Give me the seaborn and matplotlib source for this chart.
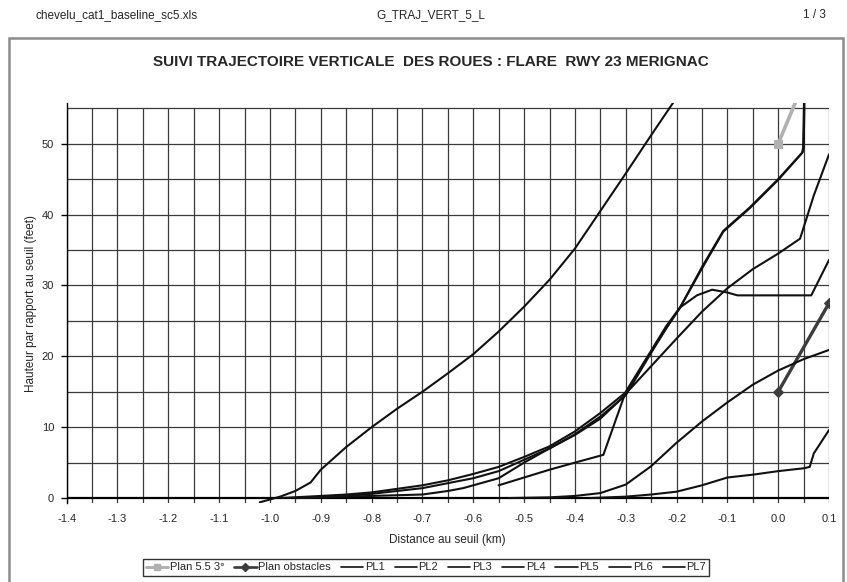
import numpy as np
import pandas as pd
import matplotlib
matplotlib.use("Agg")
import matplotlib.pyplot as plt
from matplotlib.patches import Rectangle
from matplotlib.lines import Line2D
import seaborn as sns

# ---------------- data ----------------
title = "SUIVI TRAJECTOIRE VERTICALE  DES ROUES : FLARE  RWY 23 MERIGNAC"
xlabel = "Distance au seuil (km)"
ylabel = "Hauteur par rapport au seuil (feet)"
header_left = "chevelu_cat1_baseline_sc5.xls"
header_mid = "G_TRAJ_VERT_5_L"
header_right = "1 / 3"

xticks = [-1.4, -1.3, -1.2, -1.1, -1.0, -0.9, -0.8, -0.7, -0.6, -0.5,
          -0.4, -0.3, -0.2, -0.1, 0.0, 0.1]
yticks = [0, 10, 20, 30, 40, 50]

plan_3deg_x = [0.0, 0.1]
plan_3deg_y = [50.0, 67.2]

plan_obst_x = [0.0, 0.1]
plan_obst_y = [15.0, 27.5]

pl1_x = [-1.02, -0.98, -0.95, -0.92, -0.90, -0.85, -0.80, -0.75, -0.70, -0.65,
         -0.60, -0.55, -0.50, -0.45, -0.40, -0.35, -0.30, -0.25, -0.20]
pl1_y = [-0.6, 0.2, 1.0, 2.2, 4.0, 7.2, 10.0, 12.6, 15.0, 17.6,
         20.3, 23.5, 27.0, 30.8, 35.2, 40.5, 45.8, 51.2, 56.5]

pl2_x = [-0.98, -0.90, -0.85, -0.80, -0.75, -0.70, -0.65, -0.60, -0.55, -0.50,
         -0.45, -0.40, -0.35, -0.29, -0.20, -0.15, -0.10, -0.05, 0.0, 0.043,
         0.07, 0.10]
pl2_y = [0.0, 0.3, 0.5, 0.8, 1.3, 1.8, 2.5, 3.4, 4.4, 5.8,
         7.3, 9.4, 12.0, 15.5, 22.5, 26.3, 29.6, 32.3, 34.5, 36.6,
         42.7, 48.5]

pl3_x = [-0.95, -0.85, -0.80, -0.75, -0.70, -0.65, -0.62, -0.60, -0.55, -0.50,
         -0.45, -0.40, -0.35, -0.30, -0.25, -0.22, -0.193, -0.16, -0.13, -0.10,
         -0.08, 0.065, 0.10]
pl3_y = [0.0, 0.2, 0.3, 0.4, 0.5, 1.0, 1.4, 1.8, 2.8, 5.0,
         7.0, 9.0, 11.5, 14.5, 20.5, 24.0, 26.9, 28.6, 29.4, 29.0,
         28.6, 28.6, 33.6]

pl4_x = [-0.55, -0.50, -0.45, -0.40, -0.344, -0.30, -0.25, -0.22, -0.193, -0.15,
         -0.108, -0.056, 0.0, 0.048, 0.050, 0.052]
pl4_y = [1.8, 2.9, 4.0, 5.0, 6.1, 15.0, 20.8, 24.3, 26.9, 32.6,
         37.7, 41.0, 45.0, 48.8, 49.5, 57.0]

pl5_x = [-0.53, -0.45, -0.40, -0.35, -0.30, -0.25, -0.20, -0.15, -0.10, -0.05,
         0.0, 0.05, 0.10]
pl5_y = [0.0, 0.1, 0.3, 0.7, 1.9, 4.5, 7.8, 10.8, 13.5, 16.0,
         18.0, 19.6, 20.9]

pl6_x = [-0.37, -0.30, -0.25, -0.20, -0.15, -0.10, -0.05, 0.0, 0.05, 0.062,
         0.07, 0.10]
pl6_y = [0.0, 0.2, 0.5, 0.9, 1.8, 2.9, 3.3, 3.8, 4.2, 4.4,
         6.3, 9.6]

pl7_x = [-0.93, -0.85, -0.80, -0.70, -0.60, -0.55, -0.50, -0.45, -0.40, -0.35,
         -0.30, -0.26, -0.22, -0.193, -0.15, -0.108, -0.056, 0.0, 0.047, 0.049,
         0.051]
pl7_y = [0.0, 0.3, 0.6, 1.4, 2.8, 3.8, 5.4, 7.0, 8.9, 11.2,
         14.6, 19.5, 24.0, 26.9, 32.4, 37.6, 40.9, 44.9, 48.7, 49.4,
         57.0]

series = [
    ("Plan 5.5 3°", plan_3deg_x, plan_3deg_y),
    ("Plan obstacles", plan_obst_x, plan_obst_y),
    ("PL1", pl1_x, pl1_y),
    ("PL2", pl2_x, pl2_y),
    ("PL3", pl3_x, pl3_y),
    ("PL4", pl4_x, pl4_y),
    ("PL5", pl5_x, pl5_y),
    ("PL6", pl6_x, pl6_y),
    ("PL7", pl7_x, pl7_y),
]

# ---------------- styling ----------------
sns.set_theme(style="white")
plt.rcParams["font.family"] = ["Liberation Sans", "DejaVu Sans"]

styles = {
    "Plan 5.5 3°": dict(color="#b0b0b0", lw=2.6, marker="s", ms=6),
    "Plan obstacles": dict(color="#3c3c3c", lw=2.4, marker="D", ms=5),
}
default_style = dict(color="#111111", lw=1.5, marker=None, ms=0)

fig = plt.figure(figsize=(8.47, 5.82), dpi=100)
ax = fig.add_axes([0.0787, 0.1357, 0.9001, 0.6868])

YMIN, YMAX = -0.7, 55.7
ax.set_xlim(-1.4, 0.1)
ax.set_ylim(YMIN, YMAX)

# grid
for gx in np.arange(-1.4, 0.1001, 0.05):
    ax.vlines(gx, YMIN, 55, color="#3a3a3a", lw=0.9, zorder=1)
for gy in np.arange(5, 55.01, 5):
    ax.hlines(gy, -1.4, 0.1, color="#3a3a3a", lw=0.9, zorder=1)
ax.axhline(0, color="black", lw=1.6, zorder=2)

handles = []
for name, xs, ys in series:
    st = styles.get(name, default_style)
    d = pd.DataFrame({"x": xs, "y": ys})
    sns.lineplot(data=d, x="x", y="y", ax=ax, color=st["color"], lw=st["lw"],
                 marker=st["marker"], markersize=st["ms"], markeredgecolor=st["color"],
                 sort=False, estimator=None, legend=False, zorder=3)
    handles.append(Line2D([0], [0], color=st["color"], lw=st["lw"] * 0.8,
                          marker=st["marker"], markersize=st["ms"] * 0.8,
                          markeredgecolor=st["color"], label=name))

for s in ["top", "right", "bottom"]:
    ax.spines[s].set_visible(False)
ax.spines["left"].set_color("black")
ax.spines["left"].set_linewidth(1.0)

ax.set_xticks(xticks)
ax.set_xticklabels([f"{v:.1f}" for v in xticks], fontsize=8)
ax.set_yticks(yticks)
ax.set_yticklabels([str(v) for v in yticks], fontsize=8)
ax.tick_params(axis="x", length=0, pad=8)
ax.tick_params(axis="y", length=4, width=1, color="black", direction="out", pad=5, left=True)
ax.set_xlabel("")
ax.set_ylabel("")

fig.text(447 / 847, 1 - 540 / 582, xlabel, ha="center", va="center", fontsize=8.5)
fig.text(31 / 847, 1 - 303 / 582, ylabel, ha="center", va="center", fontsize=8.5, rotation=90)
fig.text(431 / 847, 1 - 62 / 582, title, ha="center", va="center", fontsize=11, fontweight="bold")

fig.text(35 / 847, 1 - 15 / 582, header_left, ha="left", va="center", fontsize=8.5)
fig.text(431 / 847, 1 - 15 / 582, header_mid, ha="center", va="center", fontsize=8.5)
fig.text(826 / 847, 1 - 15 / 582, header_right, ha="right", va="center", fontsize=8.5)

# chart area border
fig.patches.append(Rectangle((9 / 847, -0.01), 834 / 847, 1 - 38 / 582 + 0.01,
                             transform=fig.transFigure, fill=False,
                             edgecolor="#8c8c8c", lw=1.8))

leg = fig.legend(handles=handles, loc="center", bbox_to_anchor=(426 / 847, 1 - 567.5 / 582),
                 ncol=9, fontsize=8, frameon=True, fancybox=False, edgecolor="black",
                 handlelength=2.0, handletextpad=0.15, columnspacing=0.9,
                 borderpad=0.3, borderaxespad=0)
leg.get_frame().set_linewidth(1.0)

fig.savefig("out.png", dpi=100, facecolor="white")
